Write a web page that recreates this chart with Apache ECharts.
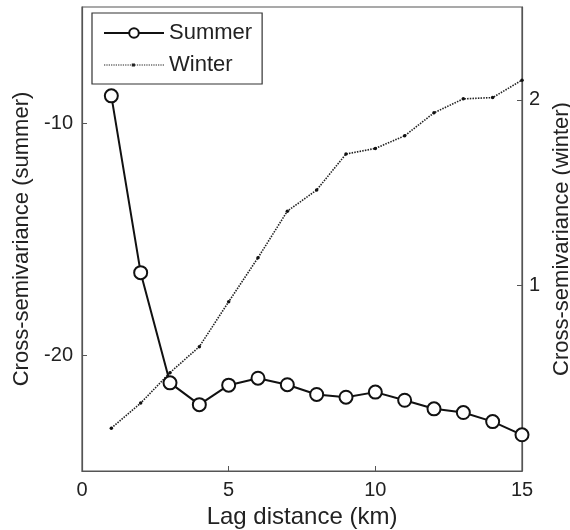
<!DOCTYPE html>
<html>
<head>
<meta charset="utf-8">
<script src="https://cdn.jsdelivr.net/npm/echarts@6/dist/echarts.min.js"></script>
<style>html,body{margin:0;padding:0;background:#fff}#c{width:570px;height:530px}</style>
</head>
<body>
<div id="c"></div>
<script>
const lags = [1,2,3,4,5,6,7,8,9,10,11,12,13,14,15];
const summer = [-8.83,-16.45,-21.2,-22.14,-21.3,-21.0,-21.28,-21.7,-21.82,-21.6,-21.95,-22.32,-22.48,-22.87,-23.44];
const winter = [0.231,0.366,0.53,0.67,0.912,1.149,1.40,1.514,1.708,1.738,1.806,1.93,2.005,2.012,2.106];
const xTicks = [0,5,10,15];
const leftTicks = [-20,-10];
const rightTicks = [1,2];

const FONT = 'Arial, "Liberation Sans", sans-serif';
const axisCol = '#555';
const textCol = '#222';

// legend icon for the dotted winter line: small dashes plus a small centre dot
let winterIcon = 'path://M0 0 M60 12';
for (let x = 0; x < 60; x += 2.4) winterIcon += ' M' + x.toFixed(1) + ' 5.4 h1.3 v1.2 h-1.3 Z';
winterIcon += ' M28.4 4.4 h3.2 v3.2 h-3.2 Z';

const chart = echarts.init(document.getElementById('c'), null, {renderer:'canvas'});
chart.setOption({
  animation:false,
  backgroundColor:'#fff',
  textStyle:{fontFamily:FONT},
  grid:{left:82,right:48,top:7,bottom:59,outerBoundsMode:'none',containLabel:false,show:true,borderColor:axisCol,borderWidth:1.2,backgroundColor:'transparent'},
  legend:{
    left:92, top:13, orient:'vertical',
    padding:[9,10,8,11],
    itemWidth:60, itemHeight:12, itemGap:10,
    borderColor:'#333', borderWidth:1.2,
    backgroundColor:'#fff',
    textStyle:{fontSize:22,color:textCol,fontFamily:FONT,lineHeight:20},
    data:['Summer',{name:'Winter',icon:winterIcon,itemStyle:{color:'#222',borderWidth:0}}]
  },
  xAxis:{
    type:'value', min:0, max:15,
    name:'Lag distance (km)', nameLocation:'middle', nameGap:34,
    nameTextStyle:{fontSize:24,color:textCol,fontFamily:FONT},
    axisLine:{show:true,lineStyle:{color:axisCol,width:1.2}},
    axisTick:{show:true,inside:true,length:5,customValues:xTicks,lineStyle:{color:axisCol}},
    axisLabel:{customValues:xTicks,fontSize:20,color:textCol,margin:9,fontFamily:FONT},
    splitLine:{show:false}
  },
  yAxis:[{
    type:'value', min:-25, max:-5, position:'left',
    name:'Cross-semivariance (summer)', nameLocation:'middle', nameGap:49,
    nameTextStyle:{fontSize:22,color:textCol,fontFamily:FONT},
    axisLine:{show:true,lineStyle:{color:axisCol,width:1.2}},
    axisTick:{show:true,inside:true,length:5,customValues:leftTicks,lineStyle:{color:axisCol}},
    axisLabel:{customValues:leftTicks,fontSize:20,color:textCol,margin:9,fontFamily:FONT},
    splitLine:{show:false}
  },{
    type:'value', min:0, max:2.5, position:'right',
    name:'Cross-semivariance (winter)', nameLocation:'middle', nameGap:14,
    nameTextStyle:{fontSize:22,color:textCol,fontFamily:FONT},
    axisLine:{show:true,lineStyle:{color:axisCol,width:1.2}},
    axisTick:{show:true,inside:true,length:5,customValues:rightTicks,lineStyle:{color:axisCol}},
    axisLabel:{customValues:rightTicks,fontSize:20,color:textCol,margin:7,fontFamily:FONT},
    splitLine:{show:false}
  }],
  series:[{
    name:'Summer', type:'line', yAxisIndex:0,
    data:lags.map((x,i)=>[x,summer[i]]),
    symbol:'emptyCircle', symbolSize:13, showAllSymbol:true,
    lineStyle:{color:'#111',width:2},
    itemStyle:{color:'#111',borderColor:'#111',borderWidth:1.6},
    z:3
  },{
    name:'Winter', type:'line', yAxisIndex:1,
    data:lags.map((x,i)=>[x,winter[i]]),
    symbol:'circle', symbolSize:3.5, showAllSymbol:true,
    lineStyle:{color:'#222',width:1.6,type:[1.5,1.2]},
    itemStyle:{color:'#111'},
    z:2
  }]
});
</script>
</body>
</html>
